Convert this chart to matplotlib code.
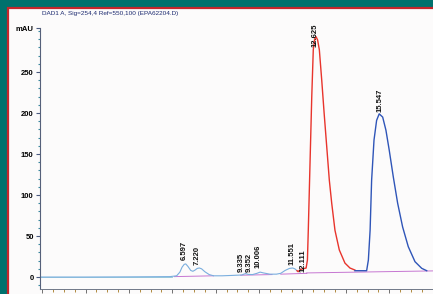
import matplotlib
matplotlib.use("Agg")
import matplotlib.pyplot as plt
from matplotlib.patches import Rectangle
from matplotlib.ticker import MultipleLocator

# trace (time in min, signal in mAU)
early_t = [-0.1, 2.0, 4.0, 5.9, 6.2, 6.35, 6.45, 6.55, 6.62, 6.72, 6.85, 6.95, 7.05,
           7.15, 7.25, 7.35, 7.5, 7.7, 7.9, 8.3, 8.8, 9.2, 9.3, 9.38, 9.5, 9.7, 9.9,
           10.05, 10.2, 10.5, 10.8, 11.0, 11.2, 11.4, 11.55, 11.65, 11.75]
early_y = [0.0, 0.0, 0.2, 0.5, 1.5, 6.0, 12.0, 15.5, 16.0, 13.0, 8.0, 7.0, 8.5,
           10.5, 11.0, 10.0, 6.5, 3.0, 1.5, 1.5, 2.0, 2.5, 3.5, 4.2, 3.2, 3.0, 4.5,
           6.0, 5.0, 3.5, 3.5, 4.5, 8.0, 10.5, 11.0, 10.0, 7.7]

red_t = [11.75, 11.80, 11.9, 12.0, 12.1, 12.17, 12.23, 12.27, 12.35, 12.43, 12.50,
         12.56, 12.63, 12.70, 12.78, 12.89, 13.00, 13.12, 13.24, 13.35, 13.50, 13.70,
         13.96, 14.19, 14.42]
red_y = [7.7, 6.5, 9.0, 10.0, 10.5, 11.0, 20.7, 57, 139, 220, 277,
         290, 293, 289, 277, 240, 200, 159, 118, 90, 57, 33,
         17, 11, 8.5]

blue_t = [14.42, 14.96, 15.04, 15.12, 15.19, 15.30, 15.42, 15.54, 15.70, 15.85, 16.00,
          16.19, 16.39, 16.62, 16.88, 17.19, 17.50, 17.73]
blue_y = [7.7, 7.7, 20.7, 57, 118, 167, 191, 199, 195, 179, 155,
          122, 90, 61, 37, 18.7, 10.6, 7.7]

# integration baselines
base_t = [[6.1, 7.9], [9.15, 10.6], [11.0, 12.2], [12.2, 18.1]]
base_y = [[0.5, 1.5], [2.2, 3.0], [3.5, 4.5], [5.0, 7.5]]

peak_rt = ["6.597", "7.220", "9.335", "9.352", "10.006", "11.551", "12.111", "12.625", "15.547"]
label_shift = [-0.06, -0.08, -0.14, 0.2, -0.06, -0.03, -0.08, -0.05, 0.03]
label_y = [21, 14.6, 6, 6, 11, 14.6, 6, 280, 201]

title = "DAD1 A, Sig=254,4 Ref=550,100 (EPA62204.D)"

plt.rcParams["font.family"] = ["Liberation Sans", "DejaVu Sans"]

W, H = 433, 294
fig = plt.figure(figsize=(W / 100, H / 100), dpi=100)
fig.patch.set_facecolor("#00716d")
fig.patches.append(Rectangle((8 / W, -0.2), 1.2, 1.2 - 8 / H, transform=fig.transFigure,
                             facecolor="#fcfbfb", edgecolor="#c4262b", linewidth=1.6,
                             zorder=-10))

ax = fig.add_axes([40 / W, 5 / H, 1 - 40 / W, (289 - 28) / H])
ax.set_facecolor("none")
ymax = (277 - 28) / 0.82
ax.set_xlim(-0.1, 18.02)
ax.set_ylim(-14.6, ymax)

ax.plot([-0.1, 6.0], [0, 0], color="#8cc4d4", lw=0.6)
for bt, by in zip(base_t, base_y):
    ax.plot(bt, by, color="#b44ac4", lw=0.7, alpha=0.75)
ax.plot(early_t, early_y, color="#7aaede", lw=0.8)
ax.plot(red_t, red_y, color="#e8342c", lw=1.0)
ax.plot(blue_t, blue_y, color="#2f55b8", lw=1.0)

for rt, dx, ly in zip(peak_rt, label_shift, label_y):
    ax.text(float(rt) + dx, ly, rt, rotation=90, ha="center", va="bottom",
            fontsize=5.5, fontweight="bold", color="#111111", clip_on=False)

ax.set_yticks([0, 50, 100, 150, 200, 250, ymax])
ax.set_yticklabels(["0", "50", "100", "150", "200", "250", "mAU"])
ax.yaxis.set_minor_locator(MultipleLocator(10))
ax.xaxis.set_major_locator(MultipleLocator(2))
ax.xaxis.set_minor_locator(MultipleLocator(0.5))
ax.set_xticklabels([])
ax.tick_params(axis="y", which="major", length=3, width=0.8, color="#4a5a80",
               labelsize=5.5, pad=1.5)
ax.tick_params(axis="y", which="minor", length=1.5, width=0.8, color="#3a8aa0")
ax.tick_params(axis="x", which="major", length=3, width=0.7, color="#707070")
ax.tick_params(axis="x", which="minor", length=2, width=0.7, color="#b08a40")
for lab in ax.get_yticklabels():
    lab.set_fontweight("bold")
for s in ["top", "right"]:
    ax.spines[s].set_visible(False)
ax.spines["left"].set_color("#55607a")
ax.spines["left"].set_linewidth(0.8)
ax.spines["bottom"].set_color("#707888")
ax.spines["bottom"].set_linewidth(0.7)

ttl = fig.text(42 / W, 1 - 14 / H, title, fontsize=5.2, color="#1c2a70", va="center")
# the scanned header is roughly 135 px wide, fit the size to that
fig.canvas.draw()
w = ttl.get_window_extent().width
ttl.set_fontsize(5.2 * 138 / w)

fig.savefig("out.png", dpi=100, facecolor=fig.get_facecolor())
